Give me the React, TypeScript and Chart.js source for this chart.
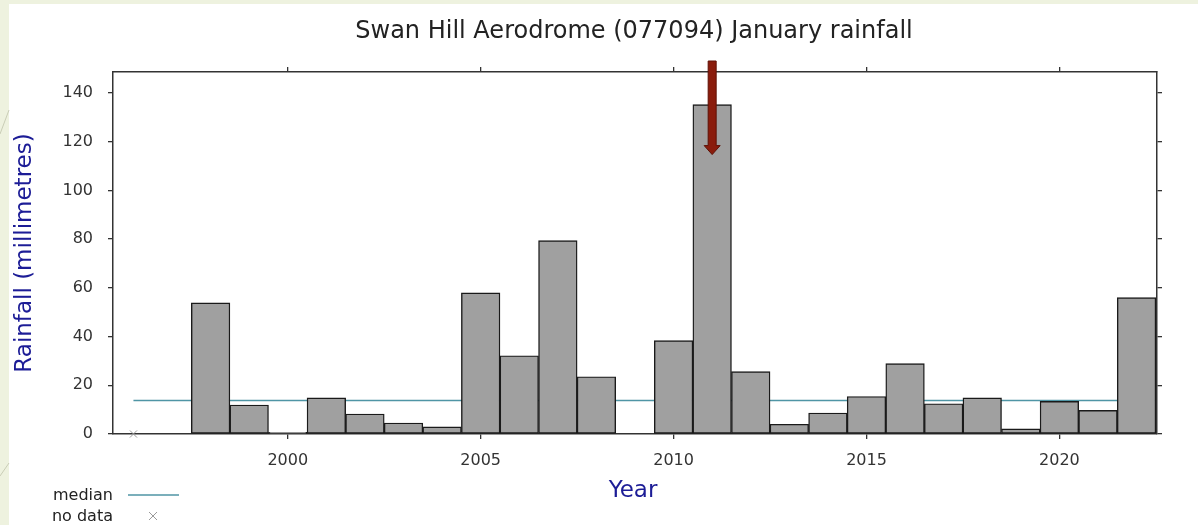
import React, { useEffect, useRef } from 'react';
import { Chart, registerables } from 'chart.js';

Chart.register(...registerables);

const chartTitle = 'Swan Hill Aerodrome (077094) January rainfall';
const xAxisTitle = 'Year';
const yAxisTitle = 'Rainfall (millimetres)';

const years = [1998, 1999, 2000, 2001, 2002, 2003, 2004, 2005, 2006, 2007, 2008, 2010, 2011, 2012, 2013, 2014, 2015, 2016, 2017, 2018, 2019, 2020, 2021, 2022];
const rainfall = [53.8, 11.9, 0.7, 14.8, 8.2, 4.5, 2.9, 57.9, 32.1, 79.4, 23.5, 38.3, 135.2, 25.6, 4.0, 8.6, 15.4, 28.9, 12.4, 14.8, 2.1, 13.4, 9.7, 56.0];
const noDataYears = [1996];
const medianValue = 13.8;
const medianStartYear = 1996;
const medianEndYear = 2022.5;
const xTickYears = [2000, 2005, 2010, 2015, 2020];
const yTickValues = [0, 20, 40, 60, 80, 100, 120, 140];
const xMin = 1995.47;
const xMax = 2022.53;
const yMin = 0;
const yMax = 148.6;
const highlightYear = 2011;
const arrowTipValue = 114.7;

const FONT = "'DejaVu Sans', Verdana, sans-serif";
const AXIS_COLOR = '#333333';
const TITLE_BLUE = '#1c1c96';
const MEDIAN_COLOR = '#4f95a5';

const W = 1198;
const H = 525;
const AREA = { left: 113, right: 1157, top: 72, bottom: 434 };

const decorPlugin = {
  id: 'decor',
  beforeDraw(chart: any) {
    const ctx = chart.ctx;
    ctx.save();
    ctx.fillStyle = '#eef2df';
    ctx.fillRect(0, 0, W, H);
    ctx.fillStyle = '#ffffff';
    ctx.fillRect(9, 4, W - 9, H - 4);
    ctx.strokeStyle = '#c9cdb6';
    ctx.lineWidth = 1;
    ctx.beginPath();
    ctx.moveTo(0, 134);
    ctx.lineTo(9, 110);
    ctx.moveTo(0, 476);
    ctx.lineTo(9, 463);
    ctx.stroke();
    ctx.restore();
  },
  afterDatasetsDraw(chart: any) {
    const ctx = chart.ctx;
    const xs = chart.scales.x;
    const ys = chart.scales.y;
    const cx = xs.getPixelForValue(highlightYear);
    const tip = ys.getPixelForValue(arrowTipValue);
    const top = chart.chartArea.top - 11;
    const headH = 9;
    ctx.save();
    ctx.fillStyle = '#8a1c0c';
    ctx.strokeStyle = '#5e1106';
    ctx.lineWidth = 1;
    ctx.beginPath();
    ctx.moveTo(cx - 4, top);
    ctx.lineTo(cx + 4, top);
    ctx.lineTo(cx + 4, tip - headH);
    ctx.lineTo(cx + 8, tip - headH);
    ctx.lineTo(cx, tip);
    ctx.lineTo(cx - 8, tip - headH);
    ctx.lineTo(cx - 4, tip - headH);
    ctx.closePath();
    ctx.fill();
    ctx.stroke();
    ctx.restore();
  },
  afterDraw(chart: any) {
    const ctx = chart.ctx;
    ctx.save();
    ctx.fillStyle = '#222222';
    ctx.font = `24px ${FONT}`;
    ctx.textAlign = 'center';
    ctx.textBaseline = 'middle';
    ctx.fillText(chartTitle, 634, 32);
    ctx.fillStyle = TITLE_BLUE;
    ctx.font = `23px ${FONT}`;
    ctx.textBaseline = 'alphabetic';
    ctx.fillText(xAxisTitle, 633, 497);
    ctx.save();
    ctx.translate(25, 253);
    ctx.rotate(-Math.PI / 2);
    ctx.textBaseline = 'middle';
    ctx.fillText(yAxisTitle, 0, 0);
    ctx.restore();
    ctx.fillStyle = '#222222';
    ctx.font = `16px ${FONT}`;
    ctx.textAlign = 'right';
    ctx.textBaseline = 'alphabetic';
    ctx.fillText('median', 113, 500);
    ctx.fillText('no data', 113, 521);
    ctx.strokeStyle = MEDIAN_COLOR;
    ctx.lineWidth = 1.5;
    ctx.beginPath();
    ctx.moveTo(128, 495);
    ctx.lineTo(179, 495);
    ctx.stroke();
    ctx.strokeStyle = '#9a9a9a';
    ctx.lineWidth = 1;
    ctx.beginPath();
    ctx.moveTo(149, 512);
    ctx.lineTo(157, 520);
    ctx.moveTo(157, 512);
    ctx.lineTo(149, 520);
    ctx.stroke();
    ctx.restore();
  },
};

const gridTicksOnly = (len: number) => ({
  display: true,
  drawOnChartArea: false,
  drawTicks: true,
  tickLength: len,
  offset: false,
  color: AXIS_COLOR,
  lineWidth: 1.3,
});

const border = { display: true, color: AXIS_COLOR, width: 1.5 };

export default function App() {
  const ref = useRef<HTMLCanvasElement | null>(null);

  useEffect(() => {
    if (!ref.current) return;
    const barData = years.map((y, i) => ({ x: y, y: rainfall[i] }));
    const chart = new Chart(ref.current, {
      type: 'bar',
      data: {
        datasets: [
          {
            type: 'bar',
            label: 'rainfall',
            data: barData,
            backgroundColor: '#a0a0a0',
            borderColor: '#1a1a1a',
            borderWidth: 1.4,
            borderSkipped: false,
            barPercentage: 1,
            categoryPercentage: 1,
            xAxisID: 'x',
            yAxisID: 'y',
            order: 0,
          } as any,
          {
            type: 'line',
            label: 'median',
            data: [
              { x: medianStartYear, y: medianValue },
              { x: medianEndYear, y: medianValue },
            ],
            borderColor: MEDIAN_COLOR,
            borderWidth: 1.5,
            pointRadius: 0,
            xAxisID: 'x',
            yAxisID: 'y',
            order: 2,
          } as any,
          {
            type: 'scatter',
            label: 'no data',
            data: noDataYears.map((y) => ({ x: y, y: 0 })),
            pointStyle: 'crossRot',
            pointRadius: 5,
            borderColor: '#9a9a9a',
            borderWidth: 1,
            clip: false,
            xAxisID: 'x',
            yAxisID: 'y',
            order: 1,
          } as any,
        ],
      },
      options: {
        responsive: false,
        animation: false,
        devicePixelRatio: 1,
        layout: { padding: 0 },
        plugins: {
          legend: { display: false },
          title: { display: false },
          tooltip: { enabled: false },
        },
        scales: {
          x: {
            type: 'linear',
            position: 'bottom',
            min: xMin,
            max: xMax,
            offset: false,
            grid: gridTicksOnly(5),
            border,
            ticks: {
              color: AXIS_COLOR,
              font: { family: FONT, size: 16 },
              padding: 12,
              maxRotation: 0,
              callback: (v: any) => String(v),
            },
            afterBuildTicks: (s: any) => {
              s.ticks = xTickYears.map((v) => ({ value: v }));
            },
            afterFit: (s: any) => {
              s.height = H - AREA.bottom;
            },
          },
          xTop: {
            type: 'linear',
            position: 'top',
            min: xMin,
            max: xMax,
            offset: false,
            grid: gridTicksOnly(5),
            border,
            ticks: { display: false },
            afterBuildTicks: (s: any) => {
              s.ticks = xTickYears.map((v) => ({ value: v }));
            },
            afterFit: (s: any) => {
              s.height = AREA.top;
            },
          },
          y: {
            type: 'linear',
            position: 'left',
            min: yMin,
            max: yMax,
            offset: false,
            grid: gridTicksOnly(5),
            border,
            ticks: {
              color: AXIS_COLOR,
              font: { family: FONT, size: 16 },
              padding: 15,
            },
            afterBuildTicks: (s: any) => {
              s.ticks = yTickValues.map((v) => ({ value: v }));
            },
            afterFit: (s: any) => {
              s.width = AREA.left;
            },
          },
          yRight: {
            type: 'linear',
            position: 'right',
            min: yMin,
            max: yMax,
            offset: false,
            grid: gridTicksOnly(5),
            border,
            ticks: { display: false },
            afterBuildTicks: (s: any) => {
              s.ticks = yTickValues.map((v) => ({ value: v }));
            },
            afterFit: (s: any) => {
              s.width = W - AREA.right;
            },
          },
        },
      } as any,
      plugins: [decorPlugin],
    });
    return () => chart.destroy();
  }, []);

  return (
    <div style={{ position: 'absolute', left: 0, top: 0, width: W, height: H }}>
      <canvas ref={ref} width={W} height={H} style={{ display: 'block', width: W, height: H }} />
    </div>
  );
}
